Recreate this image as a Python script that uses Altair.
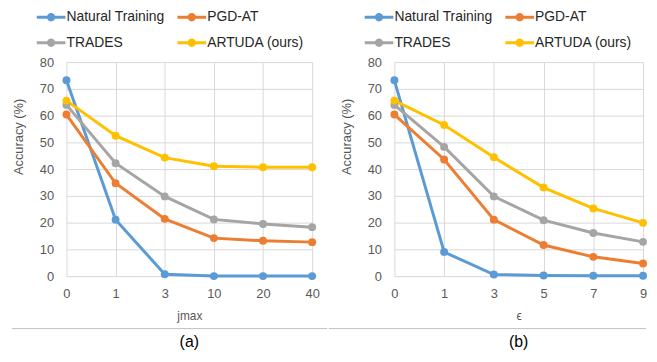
import altair as alt
import pandas as pd

series = ["Natural Training", "PGD-AT", "TRADES", "ARTUDA (ours)"]
colors = ["#5B9BD5", "#ED7D31", "#A5A5A5", "#FFC000"]

a_x = ["0", "1", "3", "10", "20", "40"]
a_natural = [73.2, 21.1, 0.7, 0.0, 0.0, 0.0]
a_pgd = [60.4, 34.7, 21.4, 14.2, 13.2, 12.7]
a_trades = [64.0, 42.2, 29.8, 21.2, 19.5, 18.3]
a_artuda = [65.6, 52.5, 44.3, 41.1, 40.7, 40.7]

b_x = ["0", "1", "3", "5", "7", "9"]
b_natural = [73.2, 9.0, 0.6, 0.2, 0.1, 0.1]
b_pgd = [60.4, 43.6, 21.1, 11.6, 7.2, 4.7]
b_trades = [64.0, 48.3, 29.8, 20.9, 16.1, 12.8]
b_artuda = [65.6, 56.5, 44.4, 33.1, 25.3, 19.9]

y_ticks = [0, 10, 20, 30, 40, 50, 60, 70, 80]


def make_df(xs, lists):
    rows = []
    for name, vals in zip(series, lists):
        for i, (x, v) in enumerate(zip(xs, vals)):
            rows.append({"x": x, "acc": v, "series": name, "order": i})
    return pd.DataFrame(rows)


df_a = make_df(a_x, [a_natural, a_pgd, a_trades, a_artuda])
df_b = make_df(b_x, [b_natural, b_pgd, b_trades, b_artuda])

# legend glyph: a line with a dot, wider than the unit box
SYMBOL = ("M-2,-0.2H2V0.2H-2Z "
          "M0.58,0A0.58,0.58 0 1,1 -0.58,0A0.58,0.58 0 1,1 0.58,0Z")

H = 216
FONT = "Liberation Sans"
AX = "#595959"


def panel(df, xs, xtitle, label, width, rule_x, rule_x2):
    legend = alt.Legend(
        title=None, orient="none", legendX=-23, legendY=-53,
        columns=2, direction="horizontal", columnPadding=12, rowPadding=11,
        symbolType=SYMBOL, symbolSize=210, symbolStrokeWidth=0,
        labelFont=FONT, labelFontSize=14, labelColor="#262626",
        labelOffset=8, labelLimit=200,
    )
    color = alt.Color("series:N", scale=alt.Scale(domain=series, range=colors),
                      legend=legend)
    x = alt.X("x:N", sort=xs, scale=alt.Scale(padding=0, type="point"),
              axis=alt.Axis(title=xtitle, labelAngle=0, grid=True,
                            gridColor="#D9D9D9", domain=False, ticks=False,
                            labelPadding=12, titlePadding=10,
                            labelFont=FONT, labelFontSize=13,
                            labelColor=AX, titleFont=FONT,
                            titleFontSize=12, titleColor=AX,
                            titleFontWeight="normal"))
    y = alt.Y("acc:Q", scale=alt.Scale(domain=[0, 80], nice=False),
              axis=alt.Axis(title="Accuracy (%)", values=y_ticks, grid=True,
                            gridColor="#D9D9D9", domain=False, ticks=False,
                            labelPadding=13, titlePadding=14, titleY=75,
                            labelFont=FONT, labelFontSize=13,
                            labelColor=AX, titleFont=FONT,
                            titleFontSize=13, titleColor=AX,
                            titleFontWeight="normal"))
    base = alt.Chart(df)
    lines = base.mark_line(strokeWidth=3).encode(
        x=x, y=y, color=color, order="order:Q")
    pts = base.mark_circle(size=64, opacity=1).encode(
        x=x, y=y, color=color)
    rule = alt.Chart(alt.Data(values=[{"a": 1}])).mark_rule(
        color="#BFBFBF", strokeWidth=1).encode(
        x=alt.value(rule_x), x2=alt.value(rule_x2), y=alt.value(269))
    return alt.layer(lines, pts, rule).properties(
        width=width, height=H,
        title=alt.TitleParams(label, orient="bottom", font=FONT, fontSize=16,
                              fontWeight="normal", color="#000000", offset=5),
    )


left = panel(df_a, a_x, "jmax", "(a)", 248, -55, 263)
right = panel(df_b, b_x, "ϵ", "(b)", 251, -66, 254)

chart = alt.hconcat(left, right, spacing=0).resolve_legend(
    color="independent").resolve_scale(color="independent").configure_view(
    stroke=None).properties(padding={"left": 3, "top": 0, "right": 0, "bottom": 0})

chart.save("out.html", embed_options={"renderer": "svg", "actions": False})
